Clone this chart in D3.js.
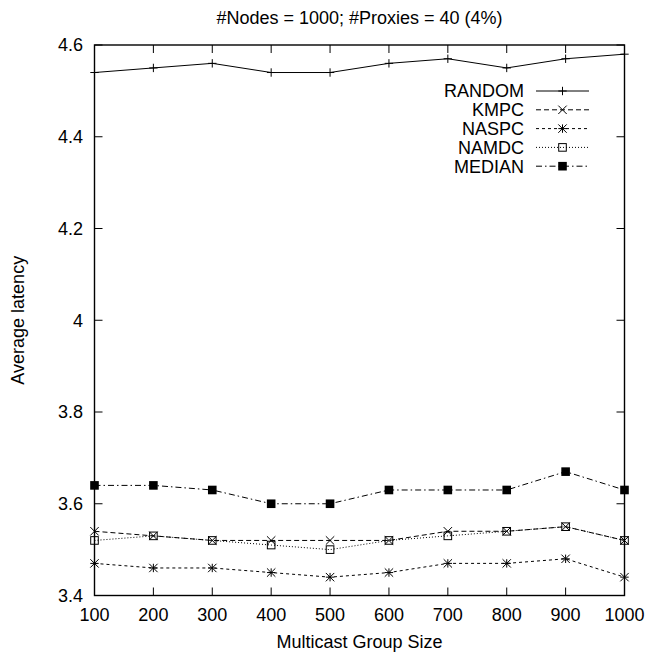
<!DOCTYPE html>
<html>
<head>
<meta charset="utf-8">
<script src="https://cdn.jsdelivr.net/npm/d3@7"></script>
<style>
  body { margin: 0; background: #fff; }
  svg { display: block; font-family: "Liberation Sans", Arial, sans-serif; }
</style>
</head>
<body>
<div id="chart"></div>
<script>
// data
const groupSizes = [100, 200, 300, 400, 500, 600, 700, 800, 900, 1000];
const randomVals = [4.54, 4.55, 4.56, 4.54, 4.54, 4.56, 4.57, 4.55, 4.57, 4.58];
const kmpcVals   = [3.54, 3.53, 3.52, 3.52, 3.52, 3.52, 3.54, 3.54, 3.55, 3.52];
const naspcVals  = [3.47, 3.46, 3.46, 3.45, 3.44, 3.45, 3.47, 3.47, 3.48, 3.44];
const namdcVals  = [3.52, 3.53, 3.52, 3.51, 3.50, 3.52, 3.53, 3.54, 3.55, 3.52];
const medianVals = [3.64, 3.64, 3.63, 3.60, 3.60, 3.63, 3.63, 3.63, 3.67, 3.63];
const yTicks = [3.4, 3.6, 3.8, 4, 4.2, 4.4, 4.6];

const series = [
  { name: "RANDOM", values: randomVals, dash: null,        mark: "plus" },
  { name: "KMPC",   values: kmpcVals,   dash: "5,3",       mark: "cross" },
  { name: "NASPC",  values: naspcVals,  dash: "3,3",       mark: "star" },
  { name: "NAMDC",  values: namdcVals,  dash: "1,2",       mark: "box" },
  { name: "MEDIAN", values: medianVals, dash: "6,3,1.5,3", mark: "fbox" }
];

const width = 645, height = 656;
const margin = { left: 94.5, right: 20.5, top: 45, bottom: 60.5 };

const svg = d3.select("#chart").append("svg")
  .attr("width", width)
  .attr("height", height);

const x = d3.scaleLinear().domain([100, 1000]).range([margin.left, width - margin.right]);
const y = d3.scaleLinear().domain([3.4, 4.6]).range([height - margin.bottom, margin.top]);

const fs = 18;
const tickLen = 8;

// point markers (gnuplot style)
function drawMark(g, type, cx, cy) {
  const r = 4.2;
  if (type === "plus" || type === "star") {
    g.append("path").attr("d", `M${cx - r},${cy}H${cx + r}M${cx},${cy - r}V${cy + r}`)
      .attr("stroke", "#000").attr("stroke-width", 1);
  }
  if (type === "cross" || type === "star") {
    g.append("path").attr("d", `M${cx - r},${cy - r}L${cx + r},${cy + r}M${cx - r},${cy + r}L${cx + r},${cy - r}`)
      .attr("stroke", "#000").attr("stroke-width", 1);
  }
  if (type === "box") {
    g.append("rect").attr("x", cx - 3.8).attr("y", cy - 3.8).attr("width", 7.6).attr("height", 7.6)
      .attr("fill", "none").attr("stroke", "#000").attr("stroke-width", 1);
  }
  if (type === "fbox") {
    g.append("rect").attr("x", cx - 4.3).attr("y", cy - 4.3).attr("width", 8.6).attr("height", 8.6)
      .attr("fill", "#000");
  }
}

// frame
svg.append("rect")
  .attr("x", x.range()[0]).attr("y", y.range()[1])
  .attr("width", x.range()[1] - x.range()[0])
  .attr("height", y.range()[0] - y.range()[1])
  .attr("fill", "none").attr("stroke", "#000").attr("stroke-width", 1.4);

// ticks, mirrored on all four sides
const ticks = svg.append("g").attr("stroke", "#000").attr("stroke-width", 1);
groupSizes.forEach(v => {
  ticks.append("line").attr("x1", x(v)).attr("x2", x(v))
    .attr("y1", y(3.4)).attr("y2", y(3.4) - tickLen);
  ticks.append("line").attr("x1", x(v)).attr("x2", x(v))
    .attr("y1", y(4.6)).attr("y2", y(4.6) + tickLen);
});
yTicks.forEach(v => {
  ticks.append("line").attr("x1", x(100)).attr("x2", x(100) + tickLen)
    .attr("y1", y(v)).attr("y2", y(v));
  ticks.append("line").attr("x1", x(1000)).attr("x2", x(1000) - tickLen)
    .attr("y1", y(v)).attr("y2", y(v));
});

// tick labels
svg.append("g").selectAll("text").data(groupSizes).join("text")
  .attr("x", d => x(d)).attr("y", 621)
  .attr("text-anchor", "middle").attr("font-size", fs)
  .text(d => d);

svg.append("g").selectAll("text").data(yTicks).join("text")
  .attr("x", 83).attr("y", d => y(d)).attr("dy", "0.35em")
  .attr("text-anchor", "end").attr("font-size", fs)
  .text(d => d);

// titles
svg.append("text").attr("x", (x.range()[0] + x.range()[1]) / 2).attr("y", 24)
  .attr("text-anchor", "middle").attr("font-size", fs)
  .text("#Nodes = 1000; #Proxies = 40 (4%)");

svg.append("text").attr("x", (x.range()[0] + x.range()[1]) / 2).attr("y", 648)
  .attr("text-anchor", "middle").attr("font-size", fs)
  .text("Multicast Group Size");

svg.append("text")
  .attr("transform", `translate(24,${(y.range()[0] + y.range()[1]) / 2}) rotate(-90)`)
  .attr("text-anchor", "middle").attr("font-size", fs)
  .text("Average latency");

// series
const line = d3.line().x((d, i) => x(groupSizes[i])).y(d => y(d));

series.forEach(s => {
  const g = svg.append("g");
  g.append("path").attr("d", line(s.values))
    .attr("fill", "none").attr("stroke", "#000").attr("stroke-width", 1)
    .attr("stroke-dasharray", s.dash);
  s.values.forEach((v, i) => drawMark(g, s.mark, x(groupSizes[i]), y(v)));
});

// legend
const legY0 = 91, legStep = 18.8;
series.forEach((s, i) => {
  const ly = legY0 + i * legStep;
  svg.append("text").attr("x", 524).attr("y", ly).attr("dy", "0.35em")
    .attr("text-anchor", "end").attr("font-size", fs).text(s.name);
  const g = svg.append("g");
  g.append("line").attr("x1", 536).attr("x2", 589).attr("y1", ly).attr("y2", ly)
    .attr("stroke", "#000").attr("stroke-width", 1)
    .attr("stroke-dasharray", s.dash);
  drawMark(g, s.mark, 562.5, ly);
});
</script>
</body>
</html>
